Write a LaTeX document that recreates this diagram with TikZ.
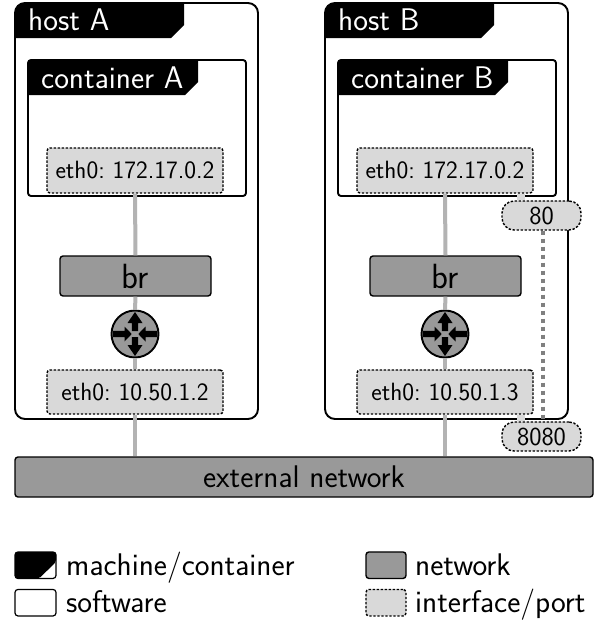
\documentclass[tikz,border=0pt]{standalone}
\renewcommand{\familydefault}{\sfdefault}
\newcommand{\bigfs}{\fontsize{31.3}{36}\selectfont\frenchspacing}
\newcommand{\brfs}{\fontsize{35}{40}\selectfont}
\newcommand{\smallfs}{\fontsize{25}{30}\selectfont\frenchspacing}
\newcommand{\portfs}{\fontsize{26}{31}\selectfont}
\definecolor{netgray}{HTML}{999999}
\definecolor{ifgray}{HTML}{D9D9D9}
\definecolor{linkgray}{HTML}{B3B3B3}
\tikzset{
  x=1pt,y=-1pt,
  boxbase/.style={rectangle,rounded corners=3pt,inner sep=0pt,anchor=center},
  softbox/.style={boxbase,draw=black,line width=1.9pt,fill=white},
  hostbox/.style={softbox,rounded corners=10pt},
  netbox/.style={boxbase,draw=black,line width=1.4pt,fill=netgray,font=\bigfs},
  ifbox/.style={boxbase,draw=black,line width=1.4pt,fill=ifgray,dash pattern=on 2.4pt off 1.6pt,font=\smallfs},
  portbox/.style={ifbox,rounded corners=12pt,font=\portfs},
  titletext/.style={inner sep=0pt,text=white,font=\bigfs,anchor=base west},
  link/.style={draw=linkgray,line width=4pt},
  taplink/.style={draw=ifgray,line width=8pt},
  publink/.style={draw=gray,line width=4pt,dash pattern=on 4pt off 4pt},
  routerc/.style={circle,draw=black,line width=1.9pt,fill=netgray,minimum size=47pt,inner sep=0pt},
  legendtext/.style={inner sep=0pt,font=\bigfs,anchor=base west},
}
\newcommand{\hostbody}[6]{%
  \node[hostbox,minimum width=243pt,minimum height=416pt] (host#1) at (#2+136.5,211) {};
  \fill[black] (#2+15,38) -- (#2+15,13) arc[start angle=180,end angle=270,radius=10] -- (#2+184,3) -- (#2+184,25) -- (#2+171,38) -- cycle;
  \node[titletext] (hostlabel#1) at (#2+28,30.5) {#3};
  \node[softbox,minimum width=218pt,minimum height=136pt] (cont#1) at (#2+137,128) {};
  \fill[black] (#2+28,95) -- (#2+28,63) arc[start angle=180,end angle=270,radius=3] -- (#2+198,60) -- (#2+198,82) -- (#2+185,95) -- cycle;
  \node[titletext] (contlabel#1) at (#2+41,88) {#4};
  \node[ifbox,minimum width=176pt,minimum height=45pt] (ifc#1) at (#2+135,170.5) {#5};
  \node[netbox,minimum width=151pt,minimum height=40pt,font=\brfs] (br#1) at (#2+135.5,276) {br};
  \node[routerc] (router#1) at (#2+135,334) {};
  \node[ifbox,minimum width=176pt,minimum height=44pt] (ifh#1) at (#2+135,392) {#6};
}
\begin{document}
\begin{tikzpicture}
\useasboundingbox (0,0) rectangle (606,624);
\hostbody{A}{0}{host A}{container A}{eth0: 172.17.0.2}{eth0: 10.50.1.2}
\hostbody{B}{310}{host B}{container B}{eth0: 172.17.0.2}{eth0: 10.50.1.3}
\node[netbox,minimum width=578pt,minimum height=40pt] (ext) at (304,477) {external network};
\foreach \h in {A,B}{
  \begin{scope}[shift={(router\h.center)},x=1pt,y=1pt]
    \foreach \r in {0,180}{
      \fill[black,rotate=\r] (0,22) -- (7.5,11) -- (3.2,11) -- (3.2,3) -- (-3.2,3) -- (-3.2,11) -- (-7.5,11) -- cycle;
      \fill[black,rotate=\r] (3.3,0) -- (10.5,7.5) -- (10.5,3.2) -- (22,3.2) -- (22,-3.2) -- (10.5,-3.2) -- (10.5,-7.5) -- cycle;
    }
  \end{scope}
  \draw[link] (ifc\h.south) -- (br\h.north);
  \draw[link] (br\h.south) -- (router\h.north);
  \draw[link] (router\h.south) -- (ifh\h.north);
  \draw[link] (ifh\h.south) -- (ifh\h.south |- ext.north);
}
\node[portbox,minimum width=79pt,minimum height=29pt] (port80) at (541.5,215.5) {80};
\node[portbox,minimum width=79pt,minimum height=29pt] (port8080) at (541.5,436.5) {8080};
\coordinate (tap) at (521,0);
\coordinate (pub) at (543,0);
\draw[taplink] (tap |- ifcB.south) -- (tap |- port80.north);
\draw[taplink] (tap |- ifhB.south) -- (tap |- port8080.north);
\draw[publink] (pub |- port80.south) -- (pub |- port8080.north);
\node[boxbase,draw=black,line width=1.2pt,fill=white,minimum width=41pt,minimum height=26.5pt] (lm) at (35.5,565.2) {};
\fill[black,rounded corners=2pt] (15,552) -- (56,552) -- (56,562) -- (39,578.5) -- (15,578.5) -- cycle;
\node[legendtext] (lmt) at (66,575) {machine/container};
\node[boxbase,draw=black,line width=1.2pt,fill=white,minimum width=41pt,minimum height=26.5pt] (ls) at (35.5,602.7) {};
\node[legendtext] (lst) at (66,612.5) {software};
\node[netbox,minimum width=40pt,minimum height=26.5pt] (ln) at (386,565.2) {};
\node[legendtext] (lnt) at (415,575) {network};
\node[ifbox,minimum width=40pt,minimum height=26.5pt] (li) at (386,602.7) {};
\node[legendtext] (lit) at (415,612.5) {interface/port};
\end{tikzpicture}
\end{document}
